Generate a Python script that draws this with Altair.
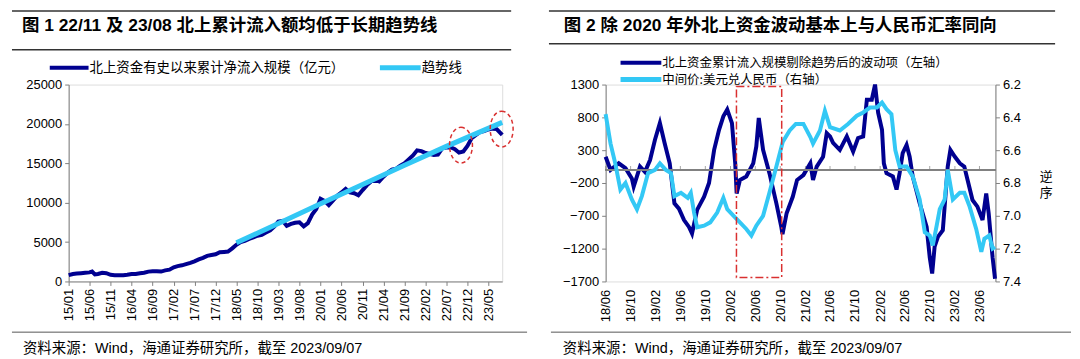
import altair as alt
import pandas as pd

# ---------------- data ----------------
cum_dates = ["2015-01-01","2015-02-01","2015-03-01","2015-04-01","2015-05-01","2015-06-01","2015-06-20",
             "2015-07-10","2015-08-01","2015-09-01","2015-10-01","2015-11-01","2015-12-01","2016-01-01",
             "2016-02-01","2016-03-01","2016-04-01","2016-05-01","2016-06-01","2016-07-01","2016-08-01",
             "2016-09-01","2016-10-01","2016-11-01","2016-12-01","2017-01-01","2017-02-01","2017-03-01",
             "2017-04-01","2017-05-01","2017-06-01","2017-07-01","2017-08-01","2017-09-01","2017-10-01",
             "2017-11-01","2017-12-01","2018-01-01","2018-02-01","2018-03-01","2018-04-01","2018-05-01",
             "2018-06-01","2018-07-01","2018-08-01","2018-09-01","2018-10-01","2018-11-01","2018-12-01",
             "2019-01-01","2019-02-01","2019-03-01","2019-04-01","2019-05-01","2019-06-01","2019-07-01",
             "2019-08-01","2019-09-01","2019-10-01","2019-11-01","2019-12-01","2020-01-01","2020-02-01",
             "2020-03-01","2020-04-01","2020-05-01","2020-06-01","2020-07-01","2020-08-01","2020-09-01",
             "2020-10-01","2020-11-01","2020-12-01","2021-01-01","2021-02-01","2021-03-01","2021-04-01",
             "2021-05-01","2021-06-01","2021-07-01","2021-08-01","2021-09-01","2021-10-01","2021-11-01",
             "2021-12-01","2022-01-01","2022-02-01","2022-03-01","2022-04-01","2022-05-01","2022-06-01",
             "2022-07-01","2022-08-01","2022-09-01","2022-10-01","2022-11-01","2022-12-01","2023-01-01",
             "2023-02-01","2023-03-01","2023-04-01","2023-05-01","2023-06-01","2023-07-01","2023-07-20",
             "2023-08-10"]
cum_values = [800,950,1000,1050,1100,1150,1250,
              900,950,1100,1050,850,800,780,
              800,850,950,950,1050,1100,1250,
              1300,1300,1250,1400,1500,1800,1950,
              2050,2200,2350,2550,2800,3000,3250,
              3350,3450,3700,3750,3800,4200,4650,
              5000,5150,5400,5600,5800,5900,6200,
              6500,7000,7600,7700,7050,7300,7450,
              7500,7000,7400,8500,9200,10500,10200,
              9700,10300,10900,11300,11750,11300,11200,
              10950,11600,12200,12700,12900,12700,13300,
              13800,14200,14300,14700,15000,15500,16000,
              16650,16550,16300,16200,16050,16100,16900,
              17000,17050,16800,16350,16500,17200,18200,
              18600,18950,19100,19300,19400,19350,19000,
              18600]

trend_dates = ["2018-05-01","2019-03-01","2020-01-01","2020-11-01","2021-09-01","2022-07-01","2023-08-10"]
trend_values = [4900,7350,9850,12300,14750,17150,20200]

left_ticks = ["2015-01-01","2015-06-01","2015-11-01","2016-04-01","2016-09-01","2017-02-01","2017-07-01",
              "2017-12-01","2018-05-01","2018-10-01","2019-03-01","2019-08-01","2020-01-01","2020-06-01",
              "2020-11-01","2021-04-01","2021-09-01","2022-02-01","2022-07-01","2022-12-01","2023-05-01"]
left_y_ticks = [0,5000,10000,15000,20000,25000]

ellipse_dates = ["2022-10-15","2023-08-06"]
ellipse_values = [17300,19350]

fl_dates = ["2018-06-01","2018-06-25","2018-08-04","2018-09-06","2018-10-07","2018-10-16","2018-11-16",
            "2018-12-10","2019-01-04","2019-01-28","2019-02-21","2019-03-16","2019-04-10","2019-05-03",
            "2019-05-25","2019-06-19","2019-07-13","2019-07-28","2019-08-22","2019-09-25","2019-10-19",
            "2019-11-13","2019-12-07","2019-12-28","2020-01-16","2020-02-08","2020-02-24","2020-03-02",
            "2020-03-18","2020-04-18","2020-05-22","2020-06-06","2020-06-18","2020-07-09","2020-08-09",
            "2020-09-12","2020-10-06","2020-10-12","2020-11-01","2020-12-01","2020-12-22","2021-01-22",
            "2021-02-25","2021-03-10","2021-03-28","2021-04-28","2021-05-16","2021-06-01","2021-06-16",
            "2021-07-19","2021-08-22","2021-09-22","2021-10-16","2021-11-10","2021-11-28","2021-12-22",
            "2022-01-07","2022-01-22","2022-02-10","2022-02-19","2022-03-04","2022-04-04","2022-04-22",
            "2022-05-07","2022-05-22","2022-06-10","2022-06-25","2022-07-10","2022-08-13","2022-09-16",
            "2022-10-01","2022-10-13","2022-10-25","2022-11-10","2022-12-04","2022-12-28","2023-01-10",
            "2023-02-01","2023-02-25","2023-03-19","2023-04-04","2023-04-28","2023-05-22","2023-06-16",
            "2023-07-04","2023-07-16","2023-08-04","2023-08-16"]
fl_values = [200,0,100,25,-130,-255,50,
             -30,150,460,713,410,100,-510,
             -590,-765,-870,-970,-610,-410,-200,
             305,610,815,918,713,100,-360,
             -155,-100,100,357,790,305,-50,
             -510,-870,-980,-660,-410,-155,-80,
             100,-155,50,200,560,510,410,
             305,510,280,485,510,1070,1070,
             1300,870,610,100,-50,-100,-300,
             -50,255,380,200,-100,-510,-870,
             -1330,-1580,-1170,-1020,-920,50,305,
             200,100,50,-155,-460,-560,-765,
             -360,-660,-1330,-1660]

fx_dates = ["2018-06-01","2018-06-25","2018-07-18","2018-08-12","2018-09-06","2018-10-07","2018-11-01",
            "2018-11-25","2018-12-25","2019-01-28","2019-02-21","2019-03-22","2019-04-16","2019-05-03",
            "2019-06-04","2019-07-07","2019-07-22","2019-08-07","2019-08-22","2019-09-25","2019-10-25",
            "2019-11-28","2019-12-28","2020-01-16","2020-02-16","2020-03-18","2020-04-18","2020-05-13",
            "2020-06-06","2020-07-09","2020-08-09","2020-09-12","2020-10-13","2020-11-16","2020-12-16",
            "2021-01-22","2021-02-25","2021-03-10","2021-04-13","2021-05-07","2021-06-01","2021-07-19",
            "2021-08-28","2021-10-10","2021-11-10","2021-12-13","2022-01-16","2022-02-10","2022-03-04",
            "2022-03-28","2022-04-16","2022-05-07","2022-06-10","2022-07-10","2022-08-13","2022-09-07",
            "2022-10-01","2022-10-16","2022-11-04","2022-11-19","2022-12-13","2022-12-28","2023-01-22",
            "2023-02-25","2023-03-19","2023-04-13","2023-05-16","2023-06-10","2023-06-25","2023-07-19",
            "2023-08-04","2023-08-16"]
fx_values = [6.38,6.56,6.68,6.84,6.80,6.90,6.96,
             6.88,6.74,6.72,6.68,6.72,6.74,6.88,
             6.86,6.89,6.86,6.98,7.07,7.06,7.04,
             6.98,6.89,6.96,7.00,7.04,7.08,7.12,
             7.06,7.00,6.86,6.70,6.55,6.48,6.44,
             6.44,6.52,6.56,6.48,6.36,6.46,6.48,
             6.44,6.39,6.37,6.34,6.34,6.31,6.35,
             6.38,6.60,6.70,6.70,6.76,6.90,7.10,
             7.12,7.18,7.06,6.96,6.90,6.72,6.90,
             6.86,6.86,6.94,7.08,7.22,7.14,7.12,
             7.20,7.19]

right_ticks = ["2018-06-01","2018-10-01","2019-02-01","2019-06-01","2019-10-01","2020-02-01","2020-06-01",
               "2020-10-01","2021-02-01","2021-06-01","2021-10-01","2022-02-01","2022-06-01","2022-10-01",
               "2023-02-01","2023-06-01"]
fl_y_ticks = [-1700,-1200,-700,-200,300,800,1300]
fx_y_ticks = [6.2,6.4,6.6,6.8,7.0,7.2,7.4]

box_start, box_end = "2020-03-01", "2020-10-08"
box_top, box_bottom = 1270, -1640

title1 = "图 1  22/11 及 23/08 北上累计流入额均低于长期趋势线"
title2 = "图 2  除 2020 年外北上资金波动基本上与人民币汇率同向"
leg1a = "北上资金有史以来累计净流入规模（亿元）"
leg1b = "趋势线"
leg2a = "北上资金累计流入规模剔除趋势后的波动项（左轴）"
leg2b = "中间价:美元兑人民币（右轴）"
source = "资料来源：Wind，海通证券研究所，截至 2023/09/07"
right_axis_title = ["逆", "序"]

# ---------------- styling ----------------
NAVY = "#000090"
LIGHT = "#33C8F5"
RED = "#D93030"
GREY = "#808080"
FONT = "Liberation Sans, Arial, Noto Sans CJK SC"
CJK = "Noto Sans CJK SC"
W1, W2, H = 436, 392, 198


def dt(s):
    y, m, d = (int(v) for v in s.split("-"))
    return alt.DateTime(year=y, month=m, date=d)


one = pd.DataFrame({"k": [0]})


def deco(x1, x2, title_x, title, rule_y, src_x, bottom_x1, items, legend_size):
    """Title rules, title, hand-drawn legend and source line, placed in pixels around the view."""
    layers = [
        alt.Chart(one).mark_rule(color="#333333", strokeWidth=1.5).encode(
            x=alt.value(x1), x2=alt.value(x2), y=alt.value(-74)),
        alt.Chart(one).mark_text(align="left", baseline="middle", font=FONT, fontSize=17.5,
                                 fontWeight="bold", color="black").encode(
            x=alt.value(title_x), y=alt.value(-59), text=alt.value(title)),
        alt.Chart(one).mark_rule(color="#333333", strokeWidth=1.5).encode(
            x=alt.value(x1), x2=alt.value(x2), y=alt.value(rule_y)),
        alt.Chart(one).mark_rule(color="#555555", strokeWidth=1).encode(
            x=alt.value(bottom_x1), x2=alt.value(x2 + 16), y=alt.value(249)),
        alt.Chart(one).mark_text(align="left", baseline="middle", font=FONT, fontSize=14.5,
                                 color="black").encode(
            x=alt.value(src_x), y=alt.value(266), text=alt.value(source)),
    ]
    for (lx1, lx2, ly, col, sw, txt) in items:
        layers.append(alt.Chart(one).mark_rule(color=col, strokeWidth=sw).encode(
            x=alt.value(lx1), x2=alt.value(lx2), y=alt.value(ly)))
        layers.append(alt.Chart(one).mark_text(align="left", baseline="middle", font=CJK,
                                               fontSize=legend_size, color="black").encode(
            x=alt.value(lx2 + 1), y=alt.value(ly), text=alt.value(txt)))
    return layers


axis_common = dict(grid=False, labelFont=FONT, labelFontSize=13, labelColor="black",
                   domainColor=GREY, tickColor=GREY, tickSize=4, title=None, labelOverlap=False)

# ---------------- left panel ----------------
df_cum = pd.DataFrame({"date": pd.to_datetime(cum_dates), "value": cum_values})
df_trend = pd.DataFrame({"date": pd.to_datetime(trend_dates), "value": trend_values})
df_ell = pd.DataFrame({"date": pd.to_datetime(ellipse_dates), "value": ellipse_values})

xL = alt.X("date:T",
           scale=alt.Scale(domain=[dt("2015-01-01"), dt("2023-08-10")]),
           axis=alt.Axis(values=[dt(s) for s in left_ticks], format="%y/%m", labelAngle=-90,
                         labelPadding=3, **axis_common))
yL = alt.Y("value:Q", scale=alt.Scale(domain=[0, 25000], nice=False),
           axis=alt.Axis(values=left_y_ticks, format="d", labelPadding=3, **axis_common))

cum_line = alt.Chart(df_cum).mark_line(color=NAVY, strokeWidth=4).encode(x=xL, y=yL)
trend_line = alt.Chart(df_trend).mark_line(color=LIGHT, strokeWidth=5).encode(x=xL, y=yL)
ellipses = alt.Chart(df_ell).mark_point(
    shape="M0,-1A0.64,1,0,1,1,0,1A0.64,1,0,1,1,0,-1Z", size=1296, filled=False,
    color=RED, strokeWidth=1.5, strokeDash=[4, 3], opacity=1).encode(x=xL, y=yL)

left_deco = deco(-57, 445, -47, title1, -35, -46, -57,
                 [(-19, 20, -17, NAVY, 4, leg1a), (313, 354, -17, LIGHT, 5, leg1b)], 13.5)

left = alt.layer(cum_line, trend_line, ellipses, *left_deco).properties(width=W1, height=H)

# ---------------- right panel ----------------
df_fl = pd.DataFrame({"date": pd.to_datetime(fl_dates), "value": fl_values})
df_fx = pd.DataFrame({"date": pd.to_datetime(fx_dates), "value": fx_values})
df_rt = pd.DataFrame({"date": pd.to_datetime(right_ticks), "value": [0] * len(right_ticks)})
df_box = pd.DataFrame({"date": pd.to_datetime([box_start]), "date2": pd.to_datetime([box_end]),
                       "value": [box_top], "value2": [box_bottom]})

xR = alt.X("date:T",
           scale=alt.Scale(domain=[dt("2018-06-01"), dt("2023-08-18")]),
           axis=alt.Axis(values=[dt(s) for s in right_ticks], format="%y/%m", labelAngle=-90,
                         domain=False, ticks=False, labelPadding=8,
                         **{k: v for k, v in axis_common.items() if k != "tickSize"}))
yFL = alt.Y("value:Q", scale=alt.Scale(domain=[-1700, 1300], nice=False),
            axis=alt.Axis(values=fl_y_ticks, format="d", labelPadding=3, **axis_common))

fl_line = alt.Chart(df_fl).mark_line(color=NAVY, strokeWidth=4).encode(x=xR, y=yFL)
zero_rule = alt.Chart(df_rt).mark_rule(color=GREY, strokeWidth=1).encode(y=yFL)
zero_ticks = alt.Chart(df_rt).mark_tick(orient="vertical", size=4, thickness=1, color=GREY,
                                        yOffset=-2).encode(x=xR, y=yFL)
box = alt.Chart(df_box).mark_rect(filled=False, stroke=RED, strokeWidth=1.5,
                                  strokeDash=[8, 3, 2, 3]).encode(
    x=xR, x2="date2:T",
    y=alt.Y("value:Q", scale=alt.Scale(domain=[-1700, 1300], nice=False), axis=None),
    y2="value2:Q")

right_deco = deco(-57, 452, -42, title2, -41, -43, -55,
                  [(15, 56, -22, NAVY, 4, leg2a), (15, 56, -5, LIGHT, 5, leg2b)], 12.5)

fx_line = alt.Chart(df_fx).mark_line(color=LIGHT, strokeWidth=4).encode(
    x=xR,
    y=alt.Y("value:Q", scale=alt.Scale(domain=[6.2, 7.4], reverse=True, nice=False, zero=False),
            axis=alt.Axis(orient="right", values=fx_y_ticks, format=".1f", labelPadding=3,
                          grid=False, labelFont=FONT, labelFontSize=13, labelColor="black",
                          domainColor=GREY, tickColor=GREY, tickSize=4, labelOverlap=False,
                          title=right_axis_title, titleAngle=0, titleFont=CJK, titleFontSize=13,
                          titleFontWeight="normal", titleColor="black", titleX=44, titleY=92,
                          titleAlign="left", titleBaseline="middle", titleLineHeight=17)))

right = alt.layer(
    alt.layer(fl_line, zero_rule, zero_ticks, *right_deco),
    fx_line,
    box,
).resolve_scale(y="independent").properties(width=W2, height=H)

chart = alt.hconcat(left, right, spacing=104, bounds="flush").properties(
    padding={"left": 2, "top": 0, "right": 0, "bottom": 0}
).configure_view(stroke=None).configure_axis(labelOverlap=False).configure(background="white")

chart.save("out.html", embed_options={"renderer": "svg", "actions": False})
